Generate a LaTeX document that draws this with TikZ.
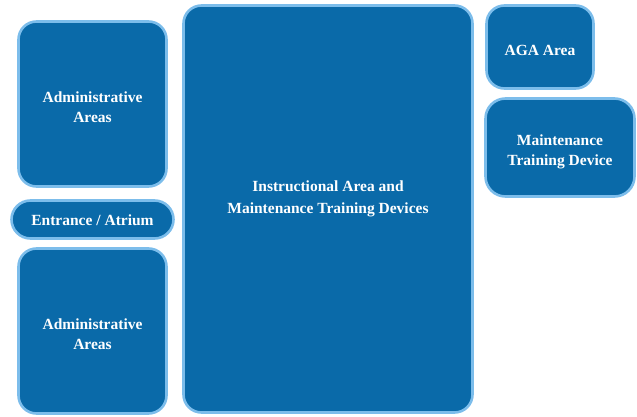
\documentclass[tikz,border=0pt]{standalone}
\usepackage{fontspec}
\setmainfont{Liberation Serif}
\definecolor{boxfill}{HTML}{0A6AA9}
\definecolor{boxedge}{HTML}{7CBDEB}
\begin{document}
\begin{tikzpicture}[x=1pt,y=-1pt,
  area/.style={rectangle, fill=boxfill, draw=boxedge, line width=2.6pt,
    rounded corners=18pt, inner sep=0pt, outer sep=0pt},
  lbl/.style={text=white, font=\bfseries\fontsize{15.5}{20}\selectfont,
    align=center, inner sep=0pt}]
\useasboundingbox (0,0) rectangle (637,417);
\node[area, minimum width=148pt, minimum height=165pt] (admtop) at (92.5,104) {};
\node[area, minimum width=162pt, minimum height=38pt, rounded corners=19pt] (entr) at (92.5,219.5) {};
\node[area, minimum width=148pt, minimum height=165pt] (admbot) at (92.5,331) {};
\node[area, minimum width=289pt, minimum height=407pt] (instr) at (328,209) {};
\node[area, minimum width=107pt, minimum height=83pt] (aga) at (540,47) {};
\node[area, minimum width=149pt, minimum height=98pt, rounded corners=20pt] (mtd) at (560,147.5) {};
\node[lbl] (admtopt) at ([yshift=-3pt]admtop.center) {Administrative\\Areas};
\node[lbl] (entrt) at ([yshift=-1pt]entr.center) {Entrance / Atrium};
\node[lbl] (admbott) at ([yshift=-3pt]admbot.center) {Administrative\\Areas};
\node[lbl, font=\bfseries\fontsize{15.5}{22}\selectfont] (instrt) at ([yshift=10pt]instr.center) {Instructional Area and\\Maintenance Training Devices};
\node[lbl] (agat) at ([yshift=-3pt]aga.center) {AGA Area};
\node[lbl] (mtdt) at ([yshift=-4pt]mtd.center) {Maintenance\\Training Device};
\end{tikzpicture}
\end{document}
